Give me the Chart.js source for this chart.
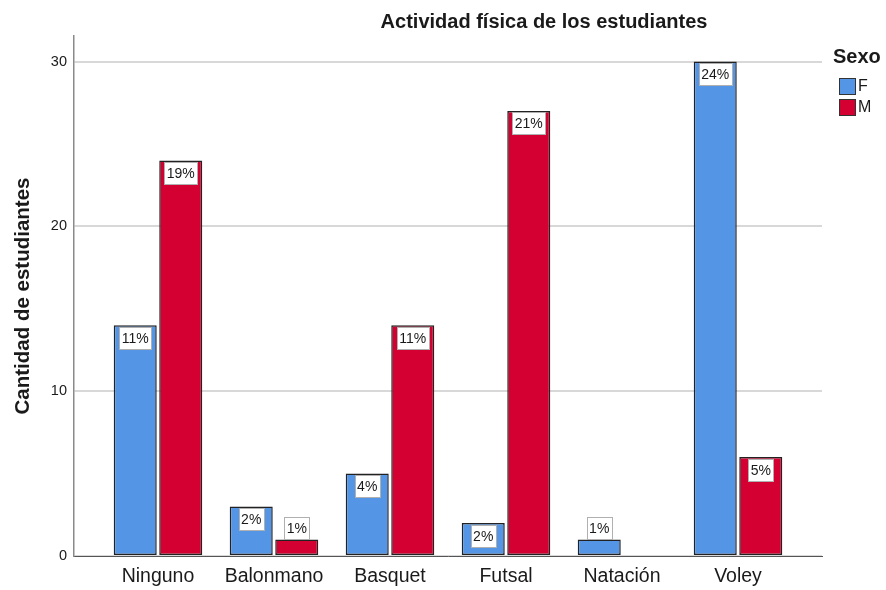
<!DOCTYPE html>
<html lang="es">
<head>
    <meta charset="UTF-8">
    <title>Actividad física de los estudiantes</title>
    <script src="https://cdn.jsdelivr.net/npm/chart.js"></script>
    <style>
        body { margin: 0; background: #fff; }
    </style>
</head>
<body>
    <canvas id="actividadChart" width="886" height="590"></canvas>

    <script>
        // Datos
        const categorias = ['Ninguno', 'Balonmano', 'Basquet', 'Futsal', 'Natación', 'Voley'];
        const sexoF = [14, 3, 5, 2, 1, 30];
        const sexoM = [24, 1, 14, 27, 0, 6];
        const pctF = ['11%', '2%', '4%', '2%', '1%', '24%'];
        const pctM = ['19%', '1%', '11%', '21%', '', '5%'];
        const yTicks = [0, 10, 20, 30];

        const FONT = "Arial, 'Liberation Sans', sans-serif";
        const AZUL = '#5595e5';
        const ROJO = '#d50032';

        // etiquetas de porcentaje, titulos y leyenda
        const extrasPlugin = {
            id: 'extras',
            afterDatasetsDraw(chart) {
                const ctx = chart.ctx;
                const pcts = [pctF, pctM];
                ctx.save();
                ctx.font = '14px ' + FONT;
                ctx.textAlign = 'center';
                ctx.textBaseline = 'middle';
                pcts.forEach((lista, d) => {
                    chart.getDatasetMeta(d).data.forEach((bar, i) => {
                        const txt = lista[i];
                        if (!txt) return;
                        const w = Math.round(ctx.measureText(txt).width + 5);
                        const h = 22;
                        const altura = bar.base - bar.y;
                        let top = altura >= 26 ? bar.y + 1.5 : bar.y - h - 1;
                        const left = Math.round(bar.x - w / 2) + 0.5;
                        top = Math.round(top) + 0.5;
                        ctx.fillStyle = '#fff';
                        ctx.fillRect(left, top, w, h);
                        ctx.strokeStyle = '#b0b0b0';
                        ctx.lineWidth = 1;
                        ctx.strokeRect(left, top, w, h);
                        ctx.fillStyle = '#1a1a1a';
                        ctx.fillText(txt, bar.x, top + h / 2 + 1);
                    });
                });
                ctx.restore();
            },
            afterDraw(chart) {
                const ctx = chart.ctx;
                ctx.save();
                ctx.fillStyle = '#1a1a1a';
                ctx.textBaseline = 'middle';

                // titulo
                ctx.font = 'bold 20px ' + FONT;
                ctx.textAlign = 'center';
                ctx.fillText('Actividad física de los estudiantes', 544, 22);

                // titulo eje y
                ctx.save();
                ctx.translate(23, 296);
                ctx.rotate(-Math.PI / 2);
                ctx.font = 'bold 20.5px ' + FONT;
                ctx.fillText('Cantidad de estudiantes', 0, 0);
                ctx.restore();

                // leyenda
                ctx.textAlign = 'left';
                ctx.font = 'bold 20px ' + FONT;
                ctx.fillText('Sexo', 833, 57);
                ctx.font = '16px ' + FONT;
                [['F', AZUL], ['M', ROJO]].forEach((item, i) => {
                    const y = 78 + i * 21;
                    ctx.fillStyle = item[1];
                    ctx.fillRect(839.5, y + 0.5, 16, 16);
                    ctx.strokeStyle = '#333';
                    ctx.lineWidth = 1;
                    ctx.strokeRect(839.5, y + 0.5, 16, 16);
                    ctx.fillStyle = '#1a1a1a';
                    ctx.fillText(item[0], 858, y + 9);
                });
                ctx.restore();
            }
        };

        const ctx = document.getElementById('actividadChart').getContext('2d');
        new Chart(ctx, {
            type: 'bar',
            data: {
                datasets: [{
                    label: 'F',
                    data: sexoF.map((v, i) => ({ x: i, y: v })),
                    backgroundColor: AZUL,
                    borderColor: '#222',
                    borderWidth: 1.5,
                    borderSkipped: false
                }, {
                    label: 'M',
                    data: sexoM.map((v, i) => ({ x: i, y: v })),
                    backgroundColor: ROJO,
                    borderColor: '#222',
                    borderWidth: 1.5,
                    borderSkipped: false
                }]
            },
            options: {
                responsive: false,
                animation: false,
                categoryPercentage: 0.785,
                barPercentage: 0.945,
                layout: { padding: { top: 36, right: 64, left: 0, bottom: 0 } },
                plugins: {
                    legend: { display: false },
                    tooltip: { enabled: false }
                },
                scales: {
                    x: {
                        type: 'linear',
                        offset: false,
                        min: -0.724,
                        max: 5.724,
                        afterBuildTicks: (scale) => {
                            scale.ticks = categorias.map((c, i) => ({ value: i }));
                        },
                        afterFit: (scale) => { scale.height = 34; },
                        grid: { display: false, drawTicks: false, offset: false },
                        border: { color: '#555', width: 1 },
                        ticks: {
                            callback: (v) => categorias[v],
                            font: { family: FONT, size: 19.5 },
                            color: '#1a1a1a',
                            padding: 9,
                            maxRotation: 0,
                            autoSkip: false
                        }
                    },
                    y: {
                        min: 0,
                        max: 31.55,
                        afterBuildTicks: (scale) => {
                            scale.ticks = yTicks.map(v => ({ value: v }));
                        },
                        afterFit: (scale) => { scale.width = 74; },
                        grid: { color: '#d8d8d8', lineWidth: 2, drawTicks: false },
                        border: { color: '#8a8a8a', width: 1.5 },
                        ticks: {
                            font: { family: FONT, size: 14.5 },
                            color: '#1a1a1a',
                            padding: 7
                        }
                    }
                }
            },
            plugins: [extrasPlugin]
        });
    </script>
</body>
</html>
